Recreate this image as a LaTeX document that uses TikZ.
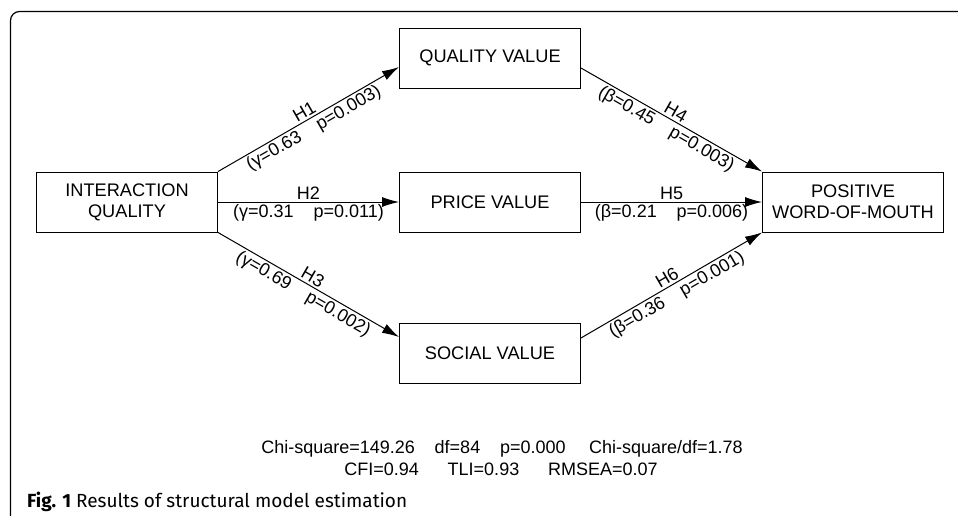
\documentclass[tikz,border=0pt]{standalone}
\usepackage{fontspec}
\setmainfont{Liberation Sans}
\newfontfamily\capfont{Fira Sans}
\usetikzlibrary{arrows.meta}
\begin{document}
\begin{tikzpicture}[x=1pt,y=-1pt,
  box/.style={draw, line width=0.9pt, minimum width=181pt, minimum height=60pt, align=center, inner sep=0pt, font=\fontsize{18.2}{21}\selectfont},
  link/.style={line width=1pt, -{Latex[length=17pt,width=10pt]}},
  lab/.style={font=\fontsize{18}{20}\selectfont, sloped, inner sep=2pt},
  stat/.style={font=\fontsize{18}{21}\selectfont, anchor=base}]
\useasboundingbox (0,0) rectangle (958,515);
\draw[line width=1.2pt, rounded corners=9pt] (10.5,520) -- (10.5,11.5) -- (965,11.5);
\node[box] (IQ) at (127,202) {INTERACTION\\QUALITY};
\node[box] (QV) at (490,58) {QUALITY VALUE};
\node[box] (PV) at (490,202) {PRICE VALUE};
\node[box] (SV) at (490,353) {SOCIAL VALUE};
\node[box] (WM) at (853,202) {POSITIVE\\WORD-OF-MOUTH};
\draw[link] (IQ.north east) -- ([yshift=-9pt]QV.west)
  node[midway, above, lab] {H1}
  node[midway, below, lab] {(γ=0.63\hspace{1.1em}p=0.003)};
\draw[link] (IQ.east) -- (PV.west)
  node[midway, above, lab] {H2}
  node[midway, below, lab] {(γ=0.31\hspace{1.1em}p=0.011)};
\draw[link] (IQ.south east) -- ([yshift=16pt]SV.west)
  node[midway, above, lab] {H3}
  node[midway, below, lab] {(γ=0.69\hspace{1.1em}p=0.002)};
\draw[link] ([yshift=-10pt]QV.east) -- (WM.north west)
  node[midway, above, lab] {H4}
  node[midway, below, lab] {(β=0.45\hspace{1.1em}p=0.003)};
\draw[link] (PV.east) -- (WM.west)
  node[midway, above, lab] {H5}
  node[midway, below, lab] {(β=0.21\hspace{1.1em}p=0.006)};
\draw[link] ([yshift=15pt]SV.east) -- (WM.south west)
  node[midway, above, lab] {H6}
  node[midway, below, lab] {(β=0.36\hspace{1.1em}p=0.001)};
\node[stat] (s1) at (502,453) {Chi-square=149.26\hspace{1.1em}df=84\hspace{1.1em}p=0.000\hspace{1.3em}Chi-square/df=1.78};
\node[stat] (s2) at (501,475) {CFI=0.94\hspace{1.6em}TLI=0.93\hspace{1.6em}RMSEA=0.07};
\node[anchor=base west, inner sep=0pt, font=\capfont\fontsize{19}{22}\selectfont] (cap) at (27,507) {\textbf{Fig. 1} Results of structural model estimation};
\end{tikzpicture}
\end{document}
